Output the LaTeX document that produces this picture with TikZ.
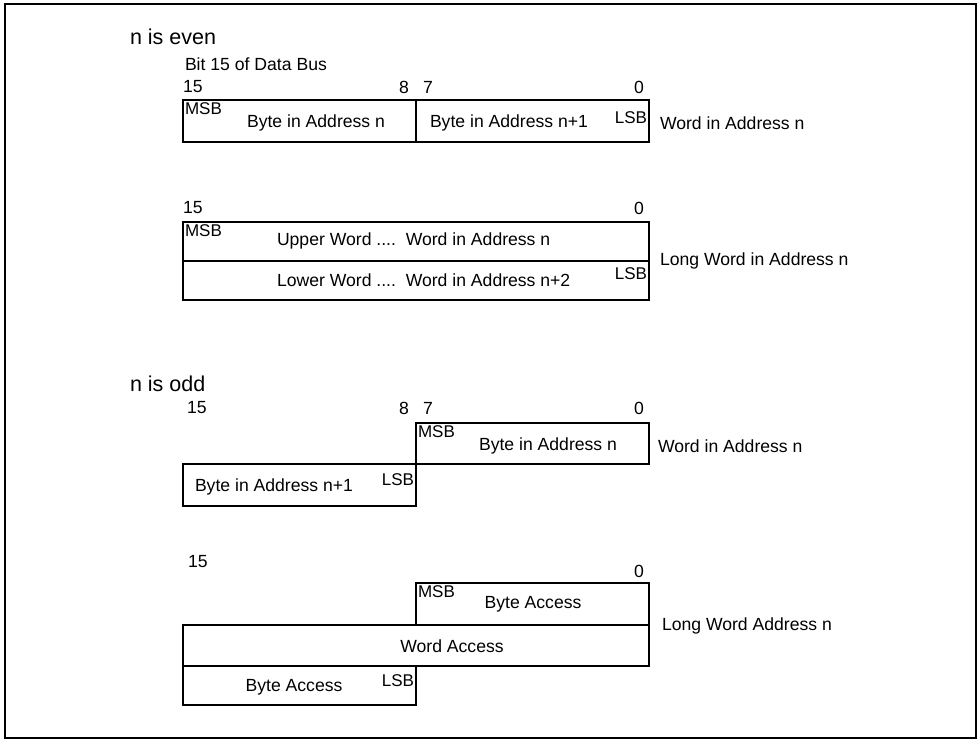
\documentclass[tikz,border=0pt]{standalone}
\usepackage{fontspec}
\setmainfont{Liberation Sans}
\begin{document}
\begin{tikzpicture}[x=1pt,y=-1pt,
  every node/.style={inner sep=0pt,outer sep=0pt},
  txt/.style={font=\fontsize{17.6}{20}\selectfont},
  head/.style={font=\fontsize{21.5}{24}\selectfont},
  sml/.style={font=\fontsize{17}{19}\selectfont},
  boxline/.style={line width=1.3pt},
  frameline/.style={line width=1.8pt}]
\useasboundingbox (0,0) rectangle (979,740);
\draw[frameline] (5,4) rectangle (976,738);

% ---------------- n is even ----------------
\node[head,anchor=west] (heven) at (130,37) {n is even};
\node[txt,anchor=west] (bit15) at (185,64) {Bit 15 of Data Bus};
\node[txt,anchor=west] (e1n15) at (183,87) {15};
\node[txt,anchor=east] (e1n8) at (409,87) {8};
\node[txt,anchor=west] (e1n7) at (423,87) {7};
\node[txt,anchor=east] (e1n0) at (644,87) {0};

\draw[boxline] (183,100) rectangle (649,142);
\draw[boxline] (416,100) -- (416,142);
\node[sml,anchor=north west] (e1msb) at (185,103) {MSB};
\node[txt] (e1b0) at (316,123) {Byte in Address n};
\node[txt] (e1b1) at (509,123) {Byte in Address n+1};
\node[sml,anchor=east] (e1lsb) at (647,118) {LSB};
\node[txt,anchor=west] (e1lab) at (660,123) {Word in Address n};

\node[txt,anchor=west] (e2n15) at (183,208) {15};
\node[txt,anchor=east] (e2n0) at (644,208) {0};
\draw[boxline] (183,222) rectangle (649,300);
\draw[boxline] (183,261) -- (649,261);
\node[sml,anchor=north west] (e2msb) at (185,225) {MSB};
\node[txt,anchor=west] (e2up) at (277,241) {Upper Word ....\ \ Word in Address n};
\node[txt,anchor=west] (e2lo) at (277,280) {Lower Word ....\ \ Word in Address n+2};
\node[sml,anchor=east] (e2lsb) at (647,274) {LSB};
\node[txt,anchor=west] (e2lab) at (660,261) {Long Word in Address n};

% ---------------- n is odd ----------------
\node[head,anchor=west] (hodd) at (130,384) {n is odd};
\node[txt,anchor=west] (o1n15) at (187,408) {15};
\node[txt,anchor=east] (o1n8) at (409,408) {8};
\node[txt,anchor=west] (o1n7) at (423,408) {7};
\node[txt,anchor=east] (o1n0) at (644,408) {0};

\draw[boxline] (416,423) rectangle (649,464);
\draw[boxline] (183,464) rectangle (416,506);
\node[sml,anchor=north west] (o1msb) at (418,426) {MSB};
\node[txt] (o1b0) at (548,446) {Byte in Address n};
\node[sml,anchor=east] (o1lsb) at (414,480) {LSB};
\node[txt] (o1b1) at (274,487) {Byte in Address n+1};
\node[txt,anchor=west] (o1lab) at (658,446) {Word in Address n};

\node[txt,anchor=west] (o2n15) at (188,562) {15};
\node[txt,anchor=east] (o2n0) at (644,571) {0};
\draw[boxline] (416,583) rectangle (649,625);
\draw[boxline] (183,625) rectangle (649,666);
\draw[boxline] (183,666) rectangle (416,705);
\node[sml,anchor=north west] (o2msb) at (418,586) {MSB};
\node[txt] (o2ba) at (533,604) {Byte Access};
\node[txt] (o2wa) at (452,646) {Word Access};
\node[txt] (o2bb) at (294,687) {Byte Access};
\node[sml,anchor=east] (o2lsb) at (414,681) {LSB};
\node[txt,anchor=west] (o2lab) at (662,626) {Long Word Address n};
\end{tikzpicture}
\end{document}
